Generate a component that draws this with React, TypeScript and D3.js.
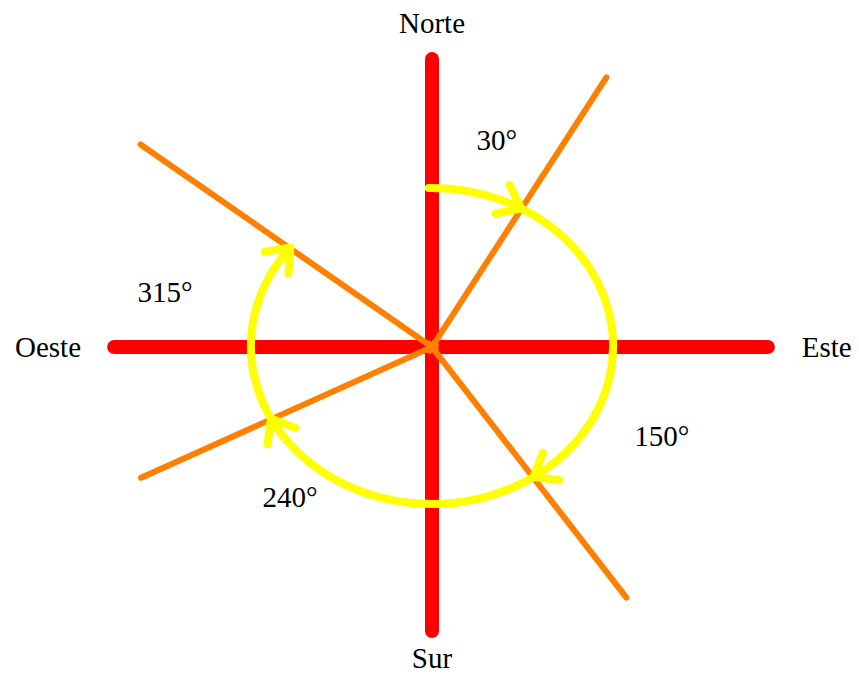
import * as d3 from "d3";

// compass arms (red): bearing in degrees, length as a fraction of the radius unit
const arms = [
  { dir: "Norte", bearing: 0, len: 0.8 },
  { dir: "Este", bearing: 90, len: 0.933 },
  { dir: "Sur", bearing: 180, len: 0.789 },
  { dir: "Oeste", bearing: 270, len: 0.883 },
];

// cardinal labels: bearing, distance from centre, anchor
const dirLabels = [
  { text: "Norte", bearing: 0, dist: 0.9, anchor: "middle" },
  { text: "Este", bearing: 90, dist: 1.027, anchor: "start" },
  { text: "Sur", bearing: 180, dist: 0.864, anchor: "middle" },
  { text: "Oeste", bearing: 270, dist: 0.975, anchor: "end" },
];

// heading rays (orange), as drawn
const rays = [
  { label: "30°", bearing: 32.9, len: 0.892 },
  { label: "150°", bearing: 142.2, len: 0.881 },
  { label: "240°", bearing: 245.8, len: 0.886 },
  { label: "315°", bearing: 304.8, len: 0.986 },
];

// angle labels positions (bearing, distance)
const angleLabels = [
  { text: "30°", bearing: 17.4, dist: 0.603 },
  { text: "150°", bearing: 111.2, dist: 0.685 },
  { text: "240°", bearing: 223.4, dist: 0.574 },
  { text: "315°", bearing: 281.6, dist: 0.757 },
];

// yellow arc: ellipse radii (fraction of unit) and start / end parameter
const arcRx = 0.503;
const arcRy = 0.439;
const arcStart = -1;
const arcEnd = 307;

export default function App() {
  const width = 859;
  const height = 676;
  const cx = 432;
  const cy = 347;
  const r = d3.scaleLinear().domain([0, 1]).range([0, 360]);
  const rad = (deg: number) => (deg * Math.PI) / 180;
  const pt = (bearing: number, d: number): [number, number] => [
    cx + r(d) * Math.sin(rad(bearing)),
    cy - r(d) * Math.cos(rad(bearing)),
  ];

  const ex = r(arcRx);
  const ey = r(arcRy);
  const ecy = cy - 1;
  const ell = (t: number): [number, number] => [
    cx + ex * Math.sin(rad(t)),
    ecy - ey * Math.cos(rad(t)),
  ];
  const [sx, sy] = ell(arcStart);
  const [tx, ty] = ell(arcEnd);
  const arcPath = `M${sx},${sy} A${ex},${ey} 0 1 1 ${tx},${ty}`;

  // arrowheads where each ray crosses the ellipse
  const heads = rays.map((ray) => {
    const dx = Math.sin(rad(ray.bearing));
    const dy = -Math.cos(rad(ray.bearing));
    const s = 1 / Math.sqrt((dx / ex) ** 2 + (dy / ey) ** 2);
    const px = cx + dx * s;
    const py = ecy + dy * s;
    const t = Math.atan2((px - cx) / ex, -(py - ecy) / ey);
    const tgx = ex * Math.cos(t);
    const tgy = ey * Math.sin(t);
    const back = Math.atan2(-tgy, -tgx);
    const L = 26;
    const a1 = back + rad(38);
    const a2 = back - rad(38);
    return `M${px + L * Math.cos(a1)},${py + L * Math.sin(a1)} L${px},${py} L${px + L * Math.cos(a2)},${py + L * Math.sin(a2)}`;
  });

  const line = d3.line();
  const font = "'Liberation Serif', 'Times New Roman', serif";

  return (
    <svg
      width={width}
      height={height}
      style={{ position: "absolute", left: 0, top: 0, background: "#fff" }}
    >
      <g stroke="#ff0000" strokeWidth={14} strokeLinecap="round">
        {arms.map((a) => (
          <path key={a.dir} d={line([[cx, cy], pt(a.bearing, a.len)]) || ""} />
        ))}
      </g>
      <g stroke="#ff8000" strokeWidth={6} strokeLinecap="round">
        {rays.map((a) => (
          <path
            key={a.label}
            d={line([pt(a.bearing + 180, 0.012), pt(a.bearing, a.len)]) || ""}
          />
        ))}
      </g>
      <g
        stroke="#ffff00"
        strokeWidth={8}
        strokeLinecap="round"
        strokeLinejoin="round"
        fill="none"
      >
        <path d={arcPath} />
        {heads.map((d, i) => (
          <path key={i} d={d} />
        ))}
      </g>
      <g fontFamily={font} fontSize={29} fill="#000">
        {dirLabels.map((l) => {
          const [x, y] = pt(l.bearing, l.dist);
          return (
            <text
              key={l.text}
              x={x}
              y={y}
              textAnchor={l.anchor}
              dominantBaseline="central"
            >
              {l.text}
            </text>
          );
        })}
        {angleLabels.map((l) => {
          const [x, y] = pt(l.bearing, l.dist);
          return (
            <text
              key={l.text}
              x={x}
              y={y}
              textAnchor="middle"
              dominantBaseline="central"
            >
              {l.text}
            </text>
          );
        })}
      </g>
    </svg>
  );
}
